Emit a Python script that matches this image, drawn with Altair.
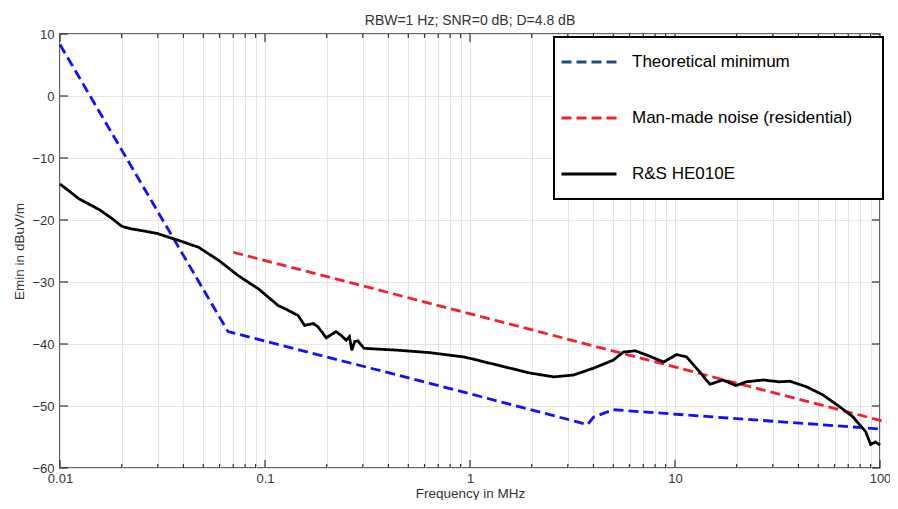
import altair as alt
import pandas as pd

# ---------------- data ----------------
series_names = ["Theoretical minimum", "Man-made noise (residential)", "R&S HE010E"]

theo_freq = [0.01, 0.066, 0.78, 3.75, 4.0, 5.0, 100]
theo_db = [8.3, -38.0, -47.1, -53.0, -51.8, -50.6, -53.7]

noise_freq = [0.07, 108]
noise_db = [-25.2, -52.6]

rs_freq = [0.01, 0.0124, 0.0155, 0.018, 0.02, 0.022, 0.026, 0.03, 0.034, 0.038,
           0.042, 0.0474, 0.0594, 0.0742, 0.0928, 0.116, 0.125, 0.145, 0.156, 0.172,
           0.181, 0.199, 0.222, 0.235, 0.249, 0.258, 0.265, 0.274, 0.284, 0.304,
           0.444, 0.64, 0.94, 1.36, 1.97, 2.57, 3.2, 4.0, 5.0, 5.6,
           6.4, 7.3, 8.8, 10.2, 11.4, 13.2, 14.8, 17.1, 19.8, 22.3,
           26.9, 32.3, 36.3, 43.8, 52.6, 63.4, 73.5, 85, 90, 95, 100]
rs_db = [-14.2, -16.6, -18.3, -19.8, -21.0, -21.4, -21.8, -22.2, -22.8, -23.3,
         -23.8, -24.4, -26.5, -29.0, -31.1, -33.8, -34.3, -35.4, -37.0, -36.7,
         -37.2, -39.0, -38.0, -38.6, -39.4, -38.8, -41.0, -39.6, -39.5, -40.7,
         -41.0, -41.4, -42.1, -43.4, -44.7, -45.3, -45.0, -43.9, -42.6, -41.3,
         -41.1, -41.8, -42.9, -41.7, -42.1, -44.5, -46.5, -45.8, -46.7, -46.1,
         -45.8, -46.1, -46.0, -46.9, -48.2, -50.1, -51.7, -54.1, -56.2, -55.8, -56.3]

x_major = [0.01, 0.1, 1, 10, 100]
x_minor = [0.02, 0.03, 0.04, 0.05, 0.06, 0.07, 0.08, 0.09,
           0.2, 0.3, 0.4, 0.5, 0.6, 0.7, 0.8, 0.9,
           2, 3, 4, 5, 6, 7, 8, 9,
           20, 30, 40, 50, 60, 70, 80, 90]
y_ticks = [-60, -50, -40, -30, -20, -10, 0, 10]

title_text = "RBW=1 Hz; SNR=0 dB; D=4.8 dB"
x_title = "Frequency in MHz"
y_title = "Emin in dBuV/m"

line_colors = ["#1010ff", "#f4202e", "#000000"]
legend_colors = ["#1f4e79", "#f4202e", "#000000"]
dashes = [[10, 5], [10, 5], [1, 0]]
widths = [2.8, 2.8, 2.2]

# ---------------- table ----------------
rows = []
for name, fs, ds in zip(series_names, [theo_freq, noise_freq, rs_freq], [theo_db, noise_db, rs_db]):
    for i, (f, d) in enumerate(zip(fs, ds)):
        rows.append({"series": name, "f": f, "db": d, "order": i})
df = pd.DataFrame(rows)

W, H = 820, 434
FONT = "Liberation Sans"

xscale = alt.Scale(type="log", domain=[0.01, 100], nice=False)
yscale = alt.Scale(domain=[-60, 10], nice=False, zero=False)

X = alt.X("f:Q", scale=xscale, title=x_title, axis=alt.Axis(
    values=x_major + x_minor, format="~g",
    labelExpr="indexof(['0.01','0.1','1','10','100'], datum.label) >= 0 ? datum.label : ''",
    labelOverlap=False, labelFlush=False, ticks=False, domain=False, grid=True,
    labelPadding=4, titlePadding=1))
Y = alt.Y("db:Q", scale=yscale, title=y_title, axis=alt.Axis(
    values=y_ticks, ticks=False, domain=False, grid=True,
    labelPadding=6, titlePadding=5))

legend = alt.Legend(
    title=None, orient="none", legendX=494, legendY=3,
    symbolType="stroke", symbolSize=3025, symbolStrokeWidth=3, clipHeight=38,
    labelFontSize=17, labelFont=FONT, labelColor="#000", labelOffset=14, labelLimit=500,
    labelExpr="datum.label + '\u2800\u2800'",
    padding=6, rowPadding=18, strokeColor="#000", fillColor="#fff",
)

lines = alt.Chart(df).mark_line(clip=False).encode(
    x=X, y=Y,
    color=alt.Color("series:N", scale=alt.Scale(domain=series_names, range=line_colors), legend=None),
    strokeDash=alt.StrokeDash("series:N", scale=alt.Scale(domain=series_names, range=dashes), legend=None),
    strokeWidth=alt.StrokeWidth("series:N", scale=alt.Scale(domain=series_names, range=widths), legend=None),
    order="order:Q",
)

legend_layer = alt.Chart(df).mark_line(strokeWidth=0, clip=False).encode(
    x=X, y=Y,
    color=alt.Color("series:N", scale=alt.Scale(domain=series_names, range=legend_colors), legend=legend),
    strokeDash=alt.StrokeDash("series:N", scale=alt.Scale(domain=series_names, range=dashes), legend=legend),
    order="order:Q",
)

tick_color = "#333"
df_major = pd.DataFrame({"f": x_major})
df_minor = pd.DataFrame({"f": x_minor})
df_y = pd.DataFrame({"db": y_ticks})

def xticks(data, length):
    top = alt.Chart(data).mark_rule(color=tick_color, strokeWidth=1.2).encode(
        x=X, y=alt.value(0), y2=alt.value(length))
    bot = alt.Chart(data).mark_rule(color=tick_color, strokeWidth=1.2).encode(
        x=X, y=alt.value(H - length), y2=alt.value(H))
    return [top, bot]

yt_left = alt.Chart(df_y).mark_rule(color=tick_color, strokeWidth=1.2).encode(
    y=Y, x=alt.value(0), x2=alt.value(8))
yt_right = alt.Chart(df_y).mark_rule(color=tick_color, strokeWidth=1.2).encode(
    y=Y, x=alt.value(W - 8), x2=alt.value(W))

chart = alt.layer(
    lines, legend_layer, *xticks(df_major, 8), *xticks(df_minor, 4), yt_left, yt_right
).resolve_scale(
    color="independent", strokeDash="independent"
).properties(
    width=W, height=H,
    autosize=alt.AutoSizeParams(type="none"),
    padding={"left": 52, "top": 26, "right": 10, "bottom": 32},
    title=alt.TitleParams(title_text, font=FONT, fontSize=14, fontWeight="normal",
                          color="#333", offset=0, anchor="middle", frame="group"),
).configure_view(
    stroke="#333", strokeWidth=1.5
).configure_axis(
    labelFont=FONT, labelFontSize=13, labelColor="#333",
    titleFont=FONT, titleFontSize=13.5, titleFontWeight="normal", titleColor="#333",
    gridColor="#e3e3e3", gridWidth=1,
).configure_legend(
    strokeWidth=2
)

chart.save("out.html", embed_options={"renderer": "svg", "actions": False})
